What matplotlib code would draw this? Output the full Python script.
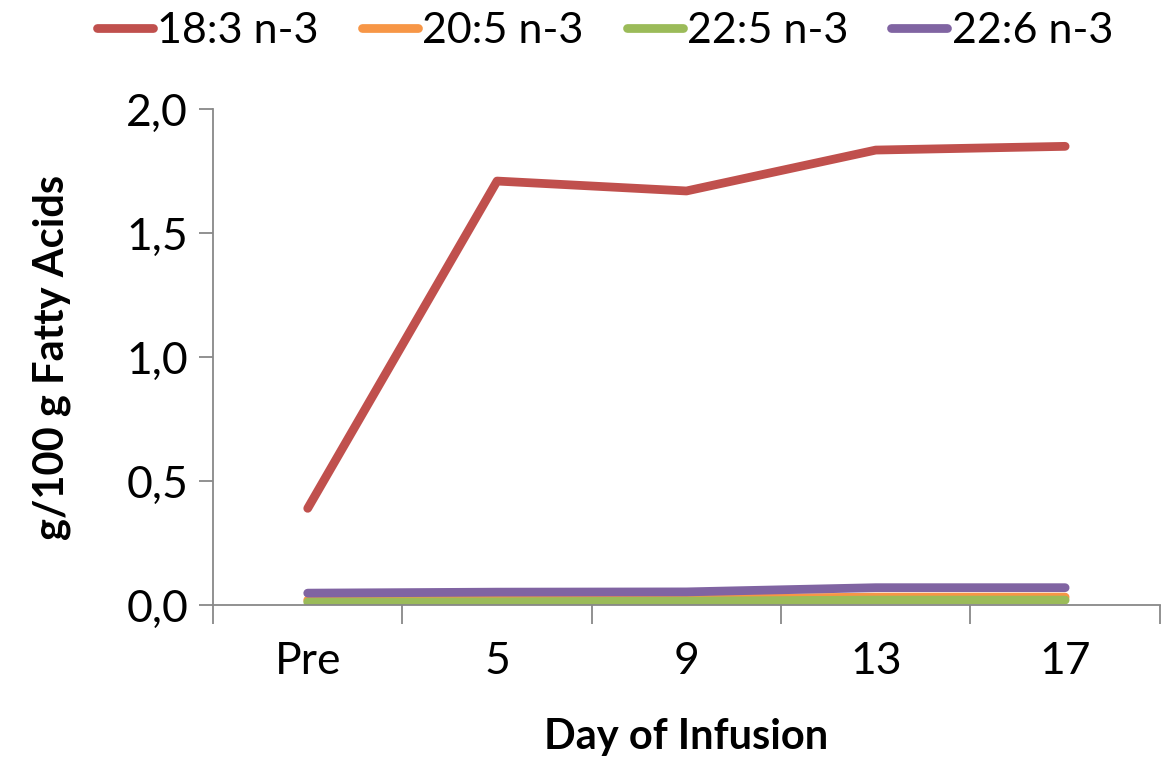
import matplotlib
matplotlib.use("Agg")
import matplotlib.pyplot as plt
from matplotlib.ticker import FuncFormatter, FixedLocator

categories = ["Pre", "5", "9", "13", "17"]
s_183 = [0.39, 1.71, 1.67, 1.835, 1.85]
s_205 = [0.02, 0.022, 0.025, 0.032, 0.032]
s_225 = [0.012, 0.013, 0.016, 0.02, 0.02]
s_226 = [0.048, 0.052, 0.053, 0.07, 0.07]
series_names = ["18:3 n-3", "20:5 n-3", "22:5 n-3", "22:6 n-3"]
colors = ["#C0504D", "#F79646", "#9BBB59", "#8064A2"]

plt.rcParams['font.family'] = ['Lato', 'DejaVu Sans']

fig = plt.figure(figsize=(11.68, 7.58), dpi=100)
ax = fig.add_axes([0.1824, 0.2018, 0.8106, 0.6542])

x = list(range(len(categories)))
for vals, name, c in zip([s_183, s_205, s_225, s_226], series_names, colors):
    ax.plot(x, vals, color=c, lw=6.3, solid_capstyle='round', solid_joinstyle='round', label=name)

ax.set_xlim(-0.5, 4.5)
ax.set_ylim(0, 2.0)
ax.set_yticks([0, 0.5, 1.0, 1.5, 2.0])
ax.yaxis.set_major_formatter(FuncFormatter(lambda v, p: f"{v:.1f}".replace('.', ',')))
ax.set_xticks(x)
ax.set_xticklabels(categories)
ax.xaxis.set_minor_locator(FixedLocator([-0.5, 0.5, 1.5, 2.5, 3.5, 4.5]))
ax.tick_params(axis='x', which='major', length=0, pad=26, labelsize=32)
ax.tick_params(axis='x', which='minor', length=14, width=1.3, color='#888888', direction='out')
ax.tick_params(axis='y', length=10, width=1.3, color='#888888', direction='out', labelsize=32, pad=8)

for s in ['top', 'right']:
    ax.spines[s].set_visible(False)
for s in ['left', 'bottom']:
    ax.spines[s].set_color('#888888')
    ax.spines[s].set_linewidth(1.3)

ax.set_xlabel("Day of Infusion", fontsize=30, fontweight='bold', labelpad=26)
ax.set_ylabel("g/100 g Fatty Acids", fontsize=30, fontweight='bold', labelpad=40)

fig.legend(loc='upper center', bbox_to_anchor=(0.518, 1.035), ncol=4, frameon=False,
           fontsize=31, handlelength=1.3, handletextpad=0.1, columnspacing=1.0)

fig.savefig("out.png", dpi=100)
